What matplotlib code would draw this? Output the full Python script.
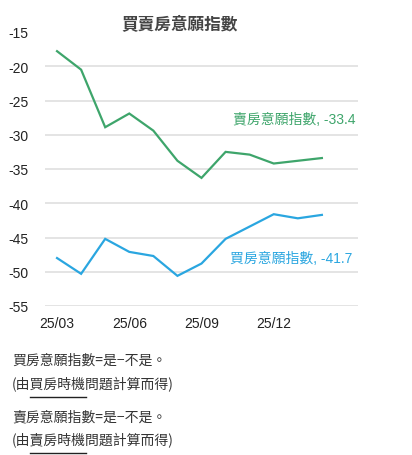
import matplotlib
matplotlib.use('Agg')
from matplotlib import pyplot as plt
from matplotlib.lines import Line2D

months = ['25/03', '25/04', '25/05', '25/06', '25/07', '25/08',
          '25/09', '25/10', '25/11', '25/12', '26/01', '26/02']
sell_index = [-17.8, -20.5, -28.9, -26.9, -29.4, -33.8,
              -36.3, -32.5, -32.9, -34.2, -33.8, -33.4]
buy_index = [-48.0, -50.3, -45.2, -47.1, -47.7, -50.6,
             -48.8, -45.2, -43.4, -41.6, -42.2, -41.7]
tick_pos = [0, 3, 6, 9]
y_ticks = [-15, -20, -25, -30, -35, -40, -45, -50, -55]

green = '#3ea56b'
blue = '#2aa6e0'
fonts = ['Liberation Sans', 'Noto Sans CJK TC']
plt.rcParams['font.family'] = fonts

fig = plt.figure(figsize=(4.12, 4.56), dpi=100)
ax = fig.add_axes([45 / 412, 1 - 307 / 456, 313 / 412, 274 / 456])

x = list(range(len(months)))
ax.plot(x, sell_index, color=green, linewidth=1.6, solid_joinstyle='miter')
ax.plot(x, buy_index, color=blue, linewidth=1.6, solid_joinstyle='miter')

for v in y_ticks[1:]:
    ax.axhline(v, color='#dcdcdc', linewidth=1.1, zorder=0)

ax.set_xlim(-0.5, 12.5)
ax.set_ylim(-55, -15)
ax.set_yticks(y_ticks)
ax.set_yticklabels([str(v) for v in y_ticks])
ax.set_xticks(tick_pos)
ax.set_xticklabels([months[i] for i in tick_pos])
ax.tick_params(axis='y', length=0, pad=12, labelsize=10, labelcolor='#222222')
ax.tick_params(axis='x', length=0, pad=7, labelsize=10, labelcolor='#222222')
for spine in ax.spines.values():
    spine.set_visible(False)

ax.annotate(f'賣房意願指數, {sell_index[-1]}', xy=(x[-1], sell_index[-1]),
            xytext=(24, 28), textcoords='offset points', ha='right', va='center',
            color=green, fontsize=10)
ax.annotate(f'買房意願指數, {buy_index[-1]}', xy=(x[-1], buy_index[-1]),
            xytext=(22, -31), textcoords='offset points', ha='right', va='center',
            color=blue, fontsize=10)

fig.text(180 / 412, 1 - 25 / 456, '買賣房意願指數', ha='center', va='center',
         fontsize=12, fontweight='bold', color='#444444', family=['Noto Sans CJK TC'])

notes = [
    ('買房意願指數=是−不是。', None),
    ('(由買房時機問題計算而得)', '買房時機'),
    ('賣房意願指數=是−不是。', None),
    ('(由賣房時機問題計算而得)', '賣房時機'),
]
note_y = [361, 385, 417, 441]
renderer = fig.canvas.get_renderer()
for (txt, under), yy in zip(notes, note_y):
    t = fig.text(12 / 412, 1 - yy / 456, txt, ha='left', va='center',
                 fontsize=10, color='#333333', family=['Noto Sans CJK TC', 'DejaVu Sans'])
    if under:
        start = txt.index(under)
        pre = fig.text(0, 0, txt[:start], fontsize=10, family=['Noto Sans CJK TC', 'DejaVu Sans'])
        word = fig.text(0, 0, under, fontsize=10, family=['Noto Sans CJK TC', 'DejaVu Sans'])
        pw = pre.get_window_extent(renderer).width
        ww = word.get_window_extent(renderer).width
        pre.remove()
        word.remove()
        x0 = 12 + pw
        x1 = x0 + ww
        yl = 1 - (yy + 13) / 456
        fig.add_artist(Line2D([x0 / 412, x1 / 412], [yl, yl], transform=fig.transFigure,
                              color='#222222', linewidth=1.0))

fig.savefig('out.png', dpi=100)
